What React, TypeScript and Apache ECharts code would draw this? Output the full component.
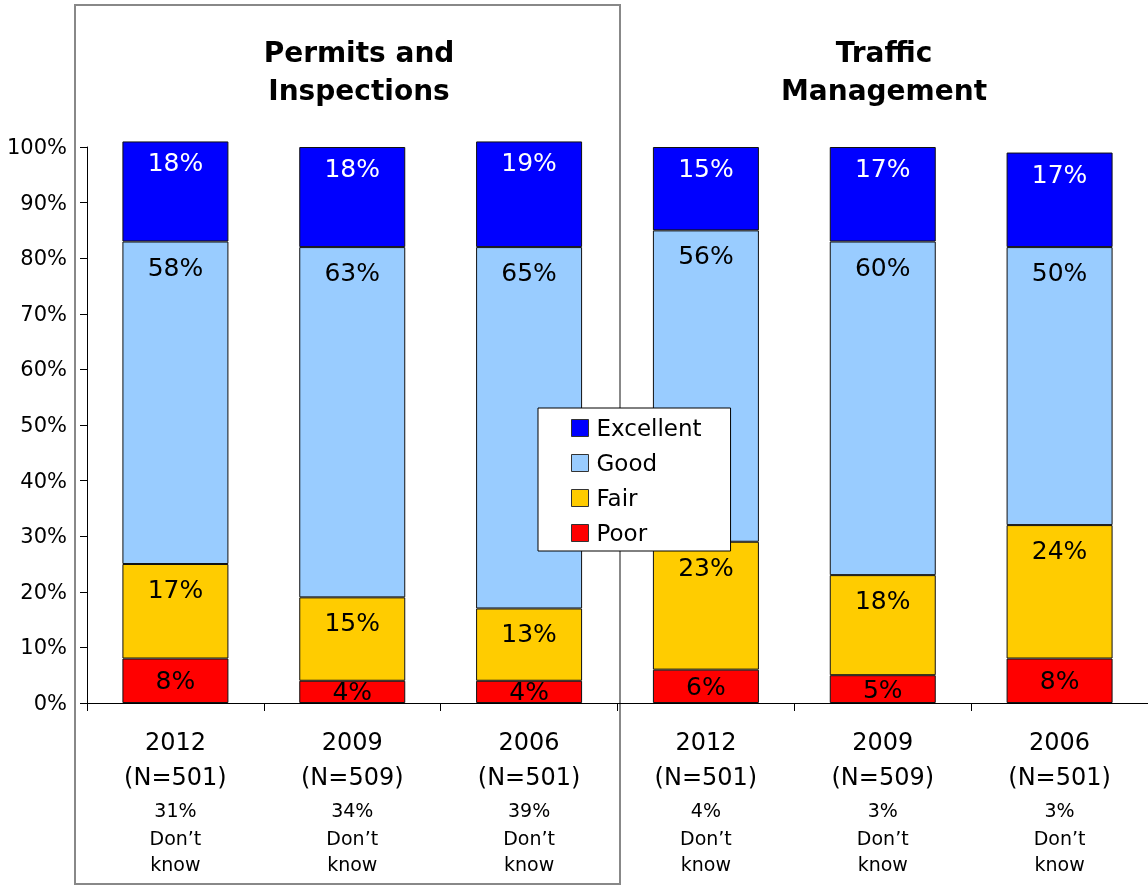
import React, { useEffect, useRef } from "react";
import * as echarts from "echarts";

const categories = ["Permits 2012", "Permits 2009", "Permits 2006", "Traffic 2012", "Traffic 2009", "Traffic 2006"];
const years = ["2012", "2009", "2006", "2012", "2009", "2006"];
const sampleSizes = ["501", "509", "501", "501", "509", "501"];
const dontKnow = ["31%", "34%", "39%", "4%", "3%", "3%"];

const poor = [8, 4, 4, 6, 5, 8];
const fair = [17, 15, 13, 23, 18, 24];
const good = [58, 63, 65, 56, 60, 50];
const excellent = [18, 18, 19, 15, 17, 17];

const yTicks = [0, 10, 20, 30, 40, 50, 60, 70, 80, 90, 100];

const FONT = "DejaVu Sans";

export default function App() {
  const ref = useRef<HTMLDivElement>(null);
  useEffect(() => {
    if (!ref.current) return;
    const chart = echarts.init(ref.current, null, { renderer: "svg" });
    const border = { borderColor: "#111", borderWidth: 1 };
    const mk = (name: string, data: number[], color: string, labelColor: string, position: string, distance: number) => ({
      name,
      type: "bar",
      stack: "total",
      data,
      barWidth: 106,
      clip: false,
      itemStyle: { color, ...border },
      label: {
        show: true,
        position,
        distance,
        color: labelColor,
        fontFamily: FONT,
        fontSize: 25,
        formatter: "{c}%",
      },
    });
    chart.setOption({
      animation: false,
      textStyle: { fontFamily: FONT },
      title: [
        {
          text: "Permits and\nInspections",
          left: 354,
          top: 28,
          textAlign: "center",
          textStyle: { fontFamily: FONT, fontSize: 28, fontWeight: "bold", color: "#000", lineHeight: 38 },
        },
        {
          text: "Traffic\nManagement",
          left: 879,
          top: 28,
          textAlign: "center",
          textStyle: { fontFamily: FONT, fontSize: 28, fontWeight: "bold", color: "#000", lineHeight: 38 },
        },
      ],
      graphic: [
        {
          type: "rect",
          shape: { x: 75, y: 5, width: 545, height: 879 },
          style: { fill: "none", stroke: "#888", lineWidth: 2 },
          z: 0,
          silent: true,
        },
      ],
      legend: {
        orient: "vertical",
        left: 538,
        top: 408,
        data: ["Excellent", "Good", "Fair", "Poor"],
        backgroundColor: "#fff",
        borderColor: "#000",
        borderWidth: 1,
        padding: [8, 29, 6, 33],
        itemGap: 11,
        itemWidth: 17,
        itemHeight: 17,
        icon: "rect",
        itemStyle: { borderColor: "#333", borderWidth: 1 },
        textStyle: { fontFamily: FONT, fontSize: 23, color: "#000", lineHeight: 24, padding: [0, 0, 0, 3] },
        z: 10,
      },
      grid: { left: 87, top: 147, width: 1062, height: 556 },
      xAxis: {
        type: "category",
        data: categories,
        axisLine: { show: true, lineStyle: { color: "#000", width: 1 } },
        axisTick: { show: true, length: 8, interval: 0, lineStyle: { color: "#000" } },
        axisLabel: {
          interval: 0,
          margin: 21,
          formatter: (_v: string, i: number) =>
            `{a|${years[i]}}\n{a|(N=${sampleSizes[i]})}\n{c|${dontKnow[i]}}\n{b|Don’t}\n{b|know}`,
          rich: {
            a: { fontFamily: FONT, fontSize: 24, lineHeight: 35, color: "#000", align: "center" },
            c: { fontFamily: FONT, fontSize: 19, lineHeight: 31, color: "#000", align: "center" },
            b: { fontFamily: FONT, fontSize: 19, lineHeight: 26, color: "#000", align: "center" },
          },
        },
        splitLine: { show: false },
      },
      yAxis: {
        type: "value",
        min: yTicks[0],
        max: yTicks[yTicks.length - 1],
        interval: 10,
        axisLine: { show: true, lineStyle: { color: "#000", width: 1 } },
        axisTick: { show: true, length: 7, lineStyle: { color: "#000" } },
        axisLabel: { formatter: "{value}%", fontFamily: FONT, fontSize: 21, color: "#000", margin: 20 },
        splitLine: { show: false },
      },
      series: [
        mk("Poor", poor, "#FF0000", "#000", "inside", 0),
        mk("Fair", fair, "#FFCC00", "#000", "insideTop", 13),
        mk("Good", good, "#99CCFF", "#000", "insideTop", 13),
        mk("Excellent", excellent, "#0000FF", "#fff", "insideTop", 9),
      ],
    });
    return () => chart.dispose();
  }, []);
  return <div ref={ref} style={{ position: "fixed", left: 0, top: 0, width: 1148, height: 886 }} />;
}
